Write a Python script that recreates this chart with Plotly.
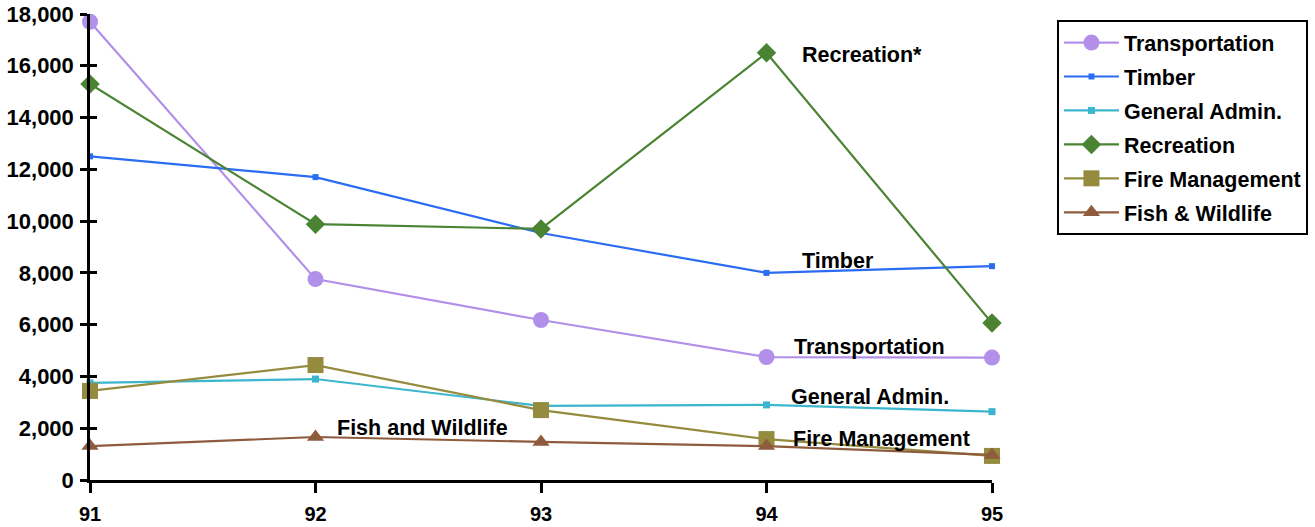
import plotly.graph_objects as go

years = [91, 92, 93, 94, 95]
year_labels = ["91", "92", "93", "94", "95"]

transportation = [17700, 7760, 6180, 4750, 4730]
timber = [12500, 11700, 9540, 8000, 8260]
general_admin = [3750, 3900, 2860, 2900, 2640]
recreation = [15300, 9880, 9700, 16500, 6060]
fire_management = [3440, 4440, 2700, 1580, 930]
fish_wildlife = [1310, 1660, 1470, 1310, 970]

y_ticks = [0, 2000, 4000, 6000, 8000, 10000, 12000, 14000, 16000, 18000]

FONT = "Liberation Sans, Arial, sans-serif"

series = [
    ("Transportation", transportation, "#B290EA", dict(symbol="circle", size=16)),
    ("Timber", timber, "#2A6CF2", dict(symbol="square", size=6)),
    ("General Admin.", general_admin, "#3CB6CC", dict(symbol="square", size=7)),
    ("Recreation", recreation, "#4A8433", dict(symbol="diamond", size=15)),
    ("Fire Management", fire_management, "#958B3E", dict(symbol="square", size=16)),
    ("Fish & Wildlife", fish_wildlife, "#8E5B3D", dict(symbol="triangle-up", size=15)),
]

fig = go.Figure()
for name, vals, color, mk in series:
    fig.add_trace(go.Scatter(
        x=years, y=vals, name=name, mode="lines+markers",
        line=dict(color=color, width=2.2),
        marker=dict(color=color, line=dict(width=0), **mk),
        cliponaxis=False, legendgroup=name,
    ))

# invisible trace carrying the inward half of the y ticks
fig.add_trace(go.Scatter(x=[years[0]], y=[0], yaxis="y2", showlegend=False,
                         mode="markers", marker=dict(opacity=0), hoverinfo="skip"))

labels = [
    ("Recreation*", 94.149, 16410),
    ("Timber", 94.149, 8455),
    ("Transportation", 94.113, 5135),
    ("General Admin.", 94.10, 3205),
    ("Fire Management", 94.109, 1583),
    ("Fish and Wildlife", 92.086, 2008),
]
for text, x, y in labels:
    fig.add_annotation(x=x, y=y, text="<b>%s</b>" % text, showarrow=False,
                       xanchor="left", yanchor="middle",
                       font=dict(family=FONT, size=21.5, color="black"))

fig.update_layout(
    width=1315, height=527,
    margin=dict(l=90, r=323, t=14, b=47, autoexpand=False),
    paper_bgcolor="white", plot_bgcolor="white",
    font=dict(family=FONT, size=20, color="black"),
    showlegend=True,
    legend=dict(
        x=1.072, y=0.987, xanchor="left", yanchor="top",
        bordercolor="black", borderwidth=2,
        font=dict(family=FONT, size=21.5, color="black", weight="bold"),
        itemwidth=55, tracegroupgap=3,
    ),
    xaxis=dict(
        range=[91, 95], tickvals=years, ticktext=year_labels,
        showgrid=False, zeroline=False, showline=True, automargin=False,
        linecolor="black", linewidth=2.5,
        ticks="outside", ticklen=10, tickwidth=2.5, tickcolor="black",
        ticklabelstandoff=4,
        tickfont=dict(family=FONT, size=20, weight="bold"),
    ),
    yaxis=dict(
        range=[0, 18000], tickvals=y_ticks, tickformat=",d",
        showgrid=False, zeroline=False, showline=True, automargin=False,
        linecolor="black", linewidth=2.5,
        ticks="outside", ticklen=7, tickwidth=2.5, tickcolor="black",
        ticklabelstandoff=2,
        tickfont=dict(family=FONT, size=22, weight="bold"),
    ),
    yaxis2=dict(
        overlaying="y", side="left", range=[0, 18000], tickvals=y_ticks,
        showticklabels=False, showgrid=False, zeroline=False, showline=False,
        automargin=False,
        ticks="inside", ticklen=7, tickwidth=2.5, tickcolor="black",
    ),
)

fig.write_html("out.html")
